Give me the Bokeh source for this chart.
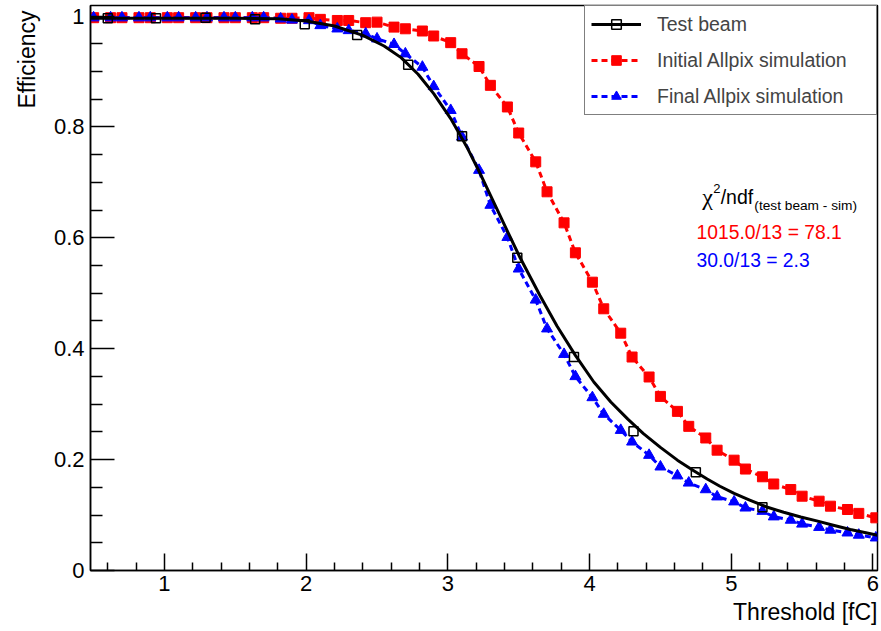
from bokeh.plotting import figure
from bokeh.models import (Range1d, FixedTicker, CustomJSTickFormatter, Label,
                          Legend, LegendItem, Title)
from bokeh.embed import file_html
from bokeh.resources import INLINE

# --- Test beam measurement (open squares) ---
tb_x = [0.60, 0.94, 1.29, 1.64, 1.99, 2.36, 2.72, 3.10, 3.49, 3.89, 4.31, 4.75, 5.22]
tb_y = [0.996, 0.996, 0.997, 0.994, 0.985, 0.966, 0.912, 0.783, 0.564, 0.385, 0.251, 0.177, 0.114]

# --- Fit to the test beam data (solid black curve) ---
fit_x = [0.478, 1.0, 1.5, 1.8, 2.0, 2.2, 2.4, 2.55, 2.67, 2.79, 2.90, 3.02, 3.14, 3.22,
         3.30, 3.42, 3.51, 3.65, 3.77, 3.90, 4.03, 4.15, 4.27, 4.38, 4.50, 4.62, 4.735,
         4.83, 4.92, 5.02, 5.13, 5.25, 5.37, 5.49, 5.61, 5.72, 5.84, 5.95, 6.032]
fit_y = [0.996, 0.996, 0.996, 0.995, 0.991, 0.982, 0.965, 0.946, 0.925, 0.895, 0.860,
         0.815, 0.761, 0.720, 0.677, 0.612, 0.564, 0.496, 0.441, 0.388, 0.340, 0.304,
         0.273, 0.247, 0.222, 0.199, 0.180, 0.165, 0.152, 0.139, 0.127, 0.1145, 0.105,
         0.0965, 0.089, 0.0815, 0.074, 0.068, 0.0635]

# --- Simulation threshold scan points (shared by both simulations) ---
sim_x = [0.50, 0.62, 0.70, 0.82, 0.90, 1.02, 1.10, 1.22, 1.30, 1.42, 1.50, 1.62, 1.70,
         1.82, 1.90, 2.02, 2.10, 2.22, 2.30, 2.42, 2.50, 2.62, 2.70, 2.82, 2.90, 3.02,
         3.10, 3.22, 3.30, 3.42, 3.50, 3.62, 3.70, 3.82, 3.90, 4.02, 4.10, 4.22, 4.30,
         4.42, 4.50, 4.62, 4.70, 4.82, 4.90, 5.02, 5.10, 5.22, 5.30, 5.42, 5.50, 5.62,
         5.70, 5.82, 5.90, 6.02]

initial_y = [0.997, 0.997, 0.997, 0.997, 0.997, 0.997, 0.997, 0.997, 0.997, 0.997, 0.997,
             0.997, 0.997, 0.996, 0.996, 0.997, 0.994, 0.992, 0.992, 0.988, 0.989, 0.980,
             0.977, 0.973, 0.964, 0.952, 0.932, 0.909, 0.875, 0.836, 0.789, 0.737, 0.683,
             0.627, 0.573, 0.520, 0.472, 0.428, 0.385, 0.349, 0.314, 0.287, 0.260, 0.239,
             0.217, 0.199, 0.183, 0.169, 0.156, 0.146, 0.134, 0.125, 0.116, 0.110, 0.103,
             0.095]

final_y = [0.997, 0.997, 0.997, 0.997, 0.997, 0.997, 0.997, 0.997, 0.997, 0.997, 0.997,
           0.997, 0.997, 0.995, 0.993, 0.992, 0.983, 0.977, 0.974, 0.968, 0.959, 0.949,
           0.932, 0.908, 0.873, 0.830, 0.782, 0.722, 0.659, 0.601, 0.544, 0.488, 0.436,
           0.390, 0.350, 0.312, 0.282, 0.253, 0.232, 0.208, 0.187, 0.171, 0.158, 0.146,
           0.133, 0.124, 0.113, 0.107, 0.097, 0.091, 0.084, 0.078, 0.073, 0.068, 0.064,
           0.059]

x_ticks = [1, 2, 3, 4, 5, 6]
x_minor = [0.6, 0.8, 1.2, 1.4, 1.6, 1.8, 2.2, 2.4, 2.6, 2.8, 3.2, 3.4, 3.6, 3.8,
           4.2, 4.4, 4.6, 4.8, 5.2, 5.4, 5.6, 5.8]
y_ticks = [0, 0.2, 0.4, 0.6, 0.8, 1.0]
y_minor = [0.05, 0.1, 0.15, 0.25, 0.3, 0.35, 0.45, 0.5, 0.55, 0.65, 0.7, 0.75,
           0.85, 0.9, 0.95]

RED = "#ff0000"
BLUE = "#0000ff"
FONT = "Liberation Sans"

p = figure(width=881, height=631, output_backend="svg", toolbar_location=None,
           x_range=Range1d(0.478, 6.032), y_range=Range1d(0, 1.019),
           min_border_left=89, min_border_right=4, min_border_top=5,
           min_border_bottom=61, background_fill_color="white",
           border_fill_color="white")
p.grid.visible = False
p.outline_line_color = "black"
p.outline_line_width = 1.5

# axes: ticks pointing inwards
p.xaxis.ticker = FixedTicker(ticks=x_ticks, minor_ticks=x_minor)
p.xaxis.major_tick_in = 17
p.xaxis.major_tick_out = 0
p.xaxis.minor_tick_in = 8
p.xaxis.minor_tick_out = 0
p.xaxis.major_label_standoff = 5

p.yaxis.ticker = FixedTicker(ticks=y_ticks, minor_ticks=y_minor)
p.yaxis.formatter = CustomJSTickFormatter(code="return tick.toString();")
p.yaxis.major_tick_in = 24
p.yaxis.major_tick_out = 0
p.yaxis.minor_tick_in = 12
p.yaxis.minor_tick_out = 0
p.yaxis.major_label_standoff = 6

for ax in (p.xaxis, p.yaxis):
    ax.axis_line_width = 1.5
    ax.axis_line_color = "black"
    ax.major_tick_line_width = 1.5
    ax.minor_tick_line_width = 1.5
    ax.major_tick_line_color = "black"
    ax.minor_tick_line_color = "black"
    ax.major_label_text_font = FONT
    ax.major_label_text_font_size = "22px"
    ax.major_label_text_color = "black"

# axis titles, flushed to the far end of each axis
p.add_layout(Title(text="Threshold [fC]", align="right", text_font=FONT,
                   text_font_size="23px", text_font_style="normal",
                   text_color="black", standoff=6), "below")
p.add_layout(Title(text="Efficiency", align="right", text_font=FONT,
                   text_font_size="23px", text_font_style="normal",
                   text_color="black", standoff=22, offset=5), "left")

# series
r_init_line = p.line(sim_x, initial_y, line_color=RED, line_width=3, line_dash="6 4")
r_init_pts = p.scatter(sim_x, initial_y, marker="square", size=10, fill_color=RED,
                       line_color=RED)
r_fin_line = p.line(sim_x, final_y, line_color=BLUE, line_width=3, line_dash="6 4")
r_fin_pts = p.scatter(sim_x, final_y, marker="triangle", size=11, fill_color=BLUE,
                      line_color=BLUE)
r_fit = p.line(fit_x, fit_y, line_color="black", line_width=3, line_join="round")
r_tb = p.scatter(tb_x, tb_y, marker="square", size=9, fill_alpha=0,
                 line_color="black", line_width=1.5)

legend = Legend(items=[
    LegendItem(label="Test beam", renderers=[r_fit, r_tb]),
    LegendItem(label="Initial Allpix simulation", renderers=[r_init_line, r_init_pts]),
    LegendItem(label="Final Allpix simulation", renderers=[r_fin_line, r_fin_pts]),
], location="top_right", margin=0, padding=6, spacing=12,
    glyph_width=50, glyph_height=24, label_height=24, label_width=213,
    label_standoff=16, label_text_font=FONT, label_text_font_size="19.5px",
    border_line_color="black", border_line_width=1.5,
    background_fill_color="white", background_fill_alpha=1)
p.add_layout(legend)

# chi-square annotation
p.add_layout(Label(x=4.795, y=0.6737, text="χ", text_font="Liberation Serif",
                   text_font_size="24px", text_baseline="alphabetic", text_color="black"))
p.add_layout(Label(x=4.872, y=0.6889, text="2", text_font=FONT,
                   text_font_size="13px", text_baseline="alphabetic", text_color="black"))
p.add_layout(Label(x=4.925, y=0.6737, text="/ndf", text_font=FONT,
                   text_font_size="19.5px", text_baseline="alphabetic", text_color="black"))
p.add_layout(Label(x=5.163, y=0.6587, text="(test beam - sim)", text_font=FONT,
                   text_font_size="13.7px", text_baseline="alphabetic", text_color="black"))
p.add_layout(Label(x=4.755, y=0.6088, text="1015.0/13 = 78.1", text_font=FONT,
                   text_font_size="19.3px", text_baseline="alphabetic", text_color=RED))
p.add_layout(Label(x=4.755, y=0.5583, text="30.0/13 = 2.3", text_font=FONT,
                   text_font_size="19.3px", text_baseline="alphabetic", text_color=BLUE))

open("out.html", "w").write(file_html(p, INLINE))
